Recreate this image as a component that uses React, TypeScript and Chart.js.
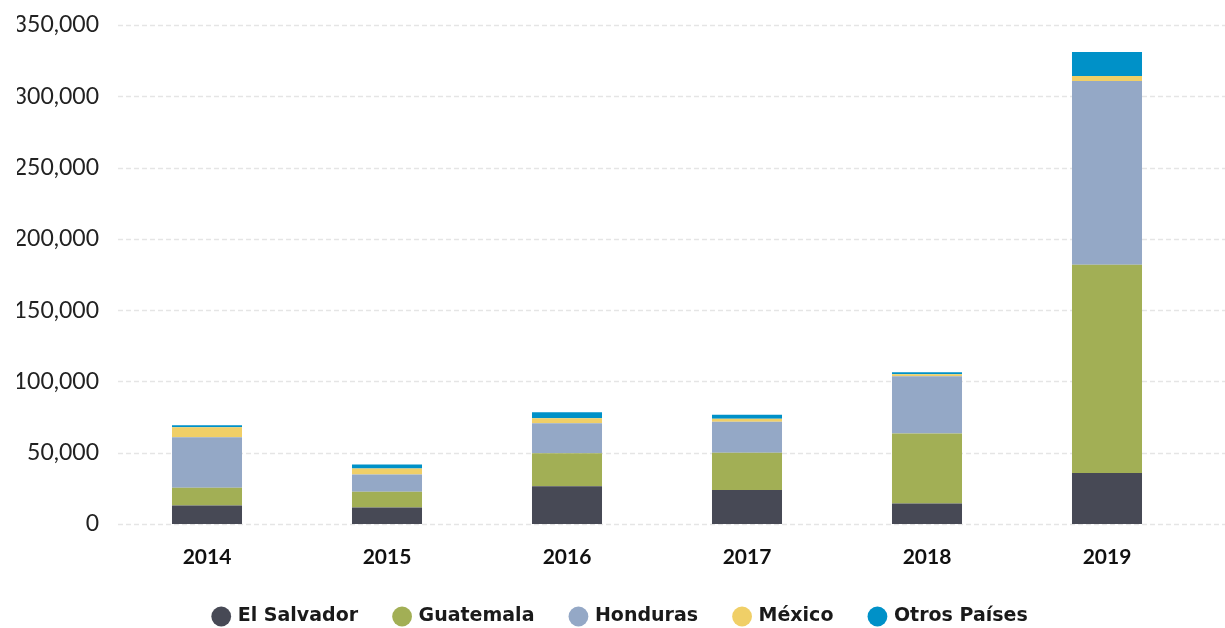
import React, { useEffect, useRef } from "react";
import { Chart, registerables } from "chart.js";

Chart.register(...registerables);

const years = ["2014", "2015", "2016", "2017", "2018", "2019"];
const elSalvador = [13000, 11600, 26400, 23900, 14400, 35800];
const guatemala = [12450, 11000, 23200, 26000, 49000, 146000];
const honduras = [35400, 12200, 21100, 21800, 40300, 129000];
const mexico = [7000, 4200, 3500, 2100, 1400, 3500];
const otros = [1400, 2800, 4200, 2800, 1400, 16800];

const seriesNames = ["El Salvador", "Guatemala", "Honduras", "México", "Otros Países"];
const seriesColors = ["#474955", "#a2af55", "#94a8c6", "#f0cf67", "#0091c8"];

const FONT = "Lato, 'Open Sans', sans-serif";

const gridPlugin = {
  id: "fullGrid",
  beforeDatasetsDraw(chart: any) {
    const { ctx, scales } = chart;
    const y = scales.y;
    ctx.save();
    ctx.strokeStyle = "#e5e5e5";
    ctx.lineWidth = 1.5;
    ctx.setLineDash([5, 3]);
    y.ticks.forEach((t: any) => {
      const py = Math.round(y.getPixelForValue(t.value)) + 0.5;
      ctx.beginPath();
      ctx.moveTo(118, py);
      ctx.lineTo(chart.width, py);
      ctx.stroke();
    });
    ctx.restore();
  },
};

export default function App() {
  const ref = useRef<HTMLCanvasElement>(null);
  useEffect(() => {
    document.body.style.margin = "0";
    const data = [elSalvador, guatemala, honduras, mexico, otros];
    const chart = new Chart(ref.current as HTMLCanvasElement, {
      type: "bar",
      data: {
        labels: years,
        datasets: data.map((d, i) => ({
          label: seriesNames[i],
          data: d,
          backgroundColor: seriesColors[i],
          borderWidth: 0,
          barPercentage: 0.389,
          categoryPercentage: 1,
        })),
      },
      options: {
        animation: false,
        responsive: false,
        maintainAspectRatio: false,
        layout: { padding: { top: 25, right: 0, bottom: -8, left: 17 } },
        plugins: {
          tooltip: { enabled: false },
          legend: {
            position: "bottom",
            labels: {
              usePointStyle: true,
              pointStyle: "circle",
              boxWidth: 14,
              boxHeight: 14,
              padding: 37,
              color: "#1a1a1a",
              font: { family: "'DejaVu Sans', sans-serif", size: 19, weight: "bold" },
            },
          },
        },
        scales: {
          x: {
            stacked: true,
            grid: { display: false, drawTicks: false },
            border: { display: false },
            ticks: {
              padding: 21,
              color: "#111",
              font: { family: FONT, size: 21, weight: "bold" },
            },
            afterFit: (s: any) => {
              s.height = 46;
            },
          },
          y: {
            stacked: true,
            min: 0,
            max: 350000,
            grid: { display: false, drawTicks: false },
            border: { display: false },
            ticks: {
              stepSize: 50000,
              padding: 18,
              color: "#222",
              font: { family: FONT, size: 23 },
              callback: (v: any) => Number(v).toLocaleString("en-US"),
            },
            afterFit: (s: any) => {
              s.width = 100;
              s.paddingTop = 0;
              s.paddingBottom = 0;
            },
          },
          yRight: {
            position: "right",
            display: true,
            grid: { display: false, drawTicks: false },
            border: { display: false },
            ticks: { display: false },
            afterFit: (s: any) => {
              s.width = 28;
              s.paddingTop = 0;
              s.paddingBottom = 0;
            },
          },
        },
      },
      plugins: [gridPlugin],
    });
    return () => chart.destroy();
  }, []);
  return <canvas ref={ref} width={1225} height={628} style={{ display: "block" }} />;
}
